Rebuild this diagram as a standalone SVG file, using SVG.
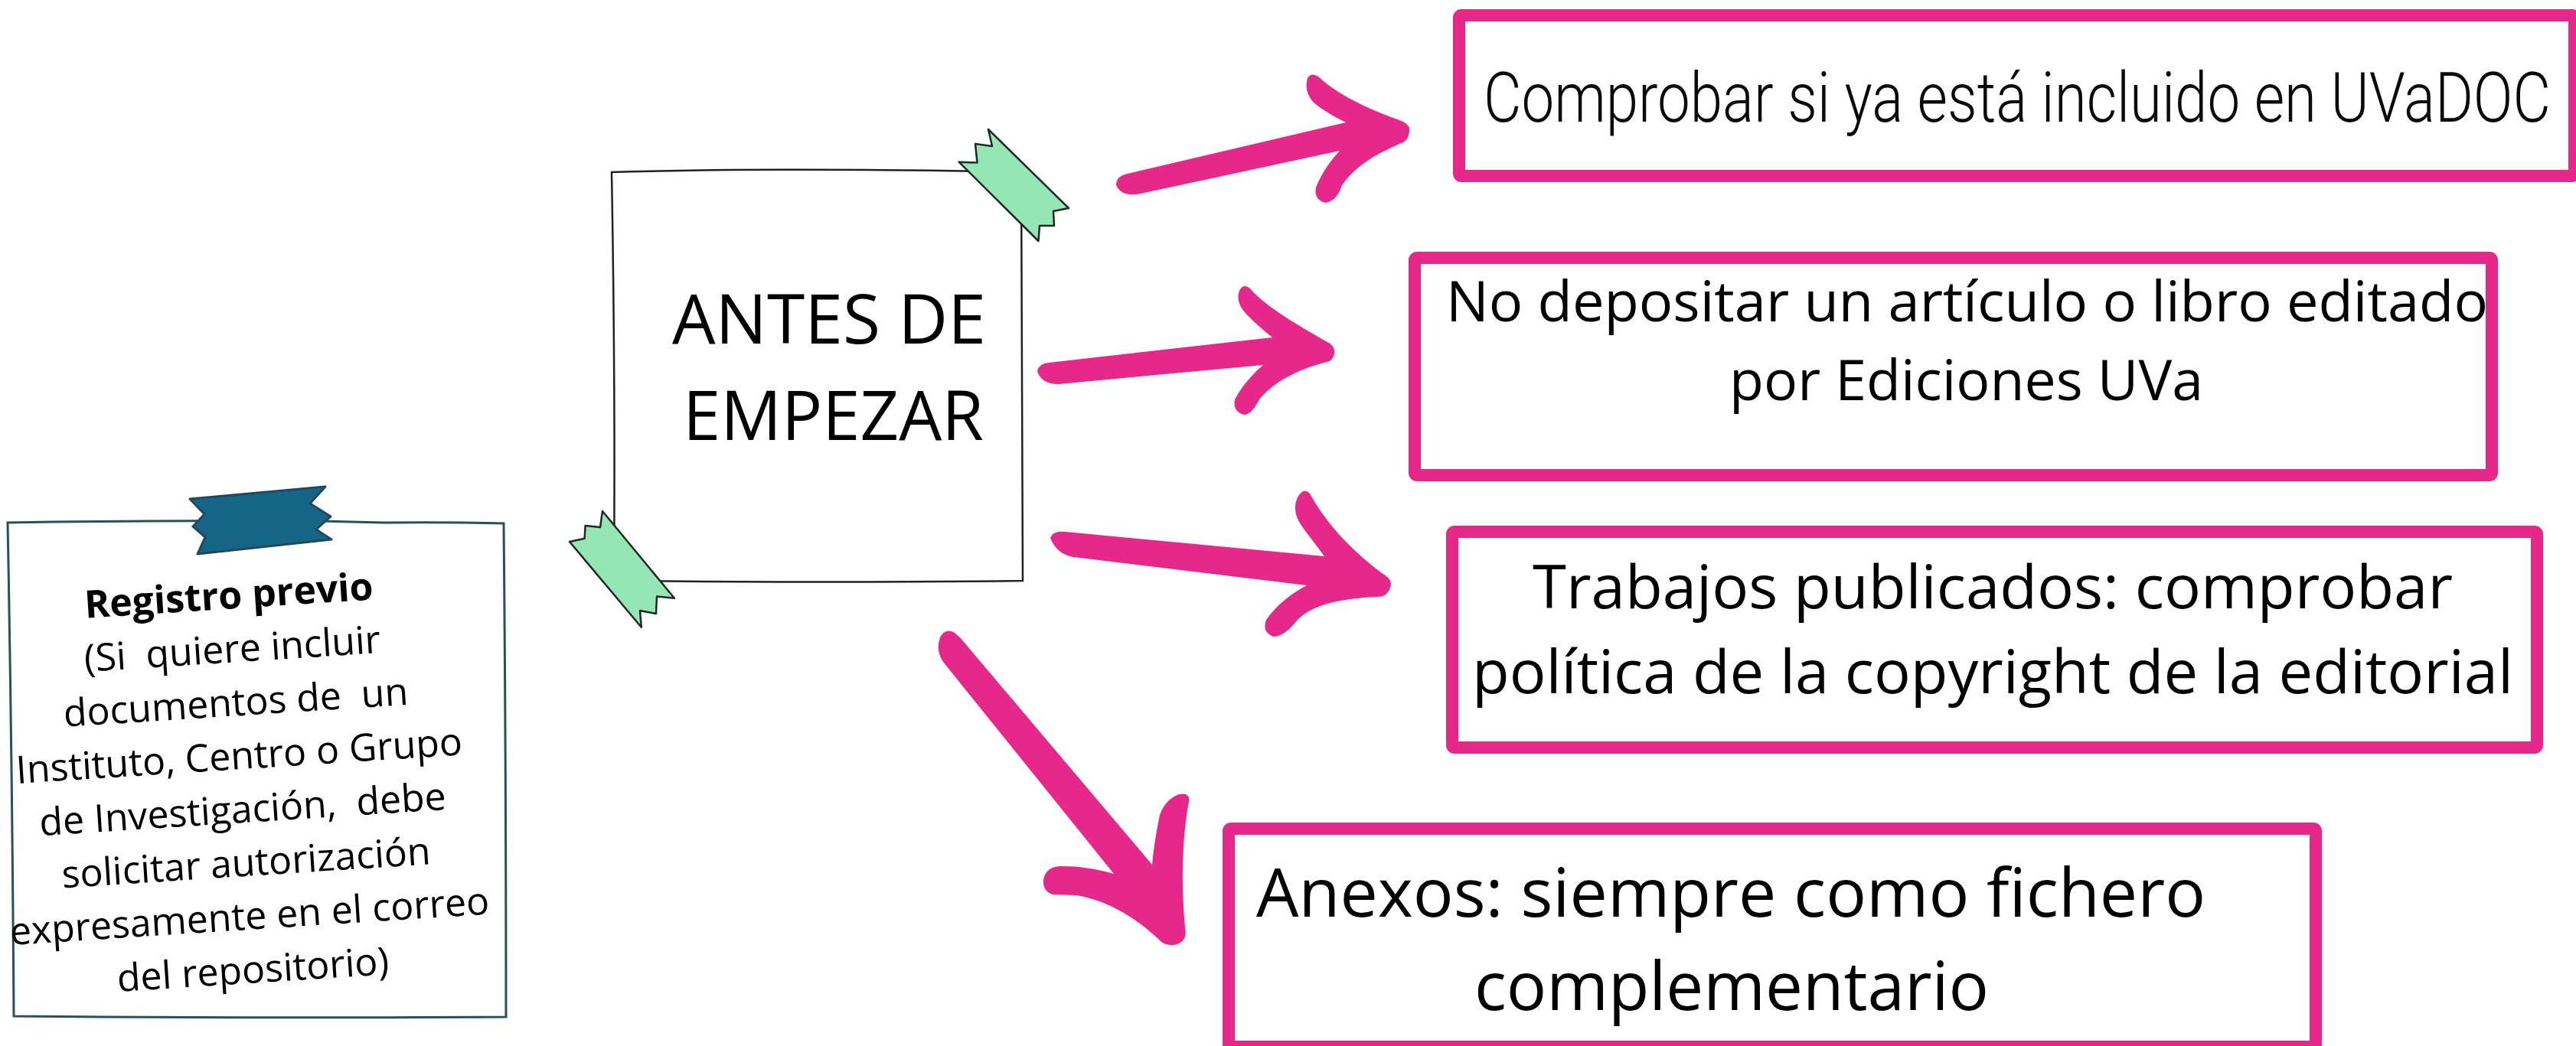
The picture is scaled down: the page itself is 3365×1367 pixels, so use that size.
<svg xmlns="http://www.w3.org/2000/svg" width="3365" height="1367" viewBox="0 0 3365 1367">
<style>
.pinkbox{fill:#ffffff;stroke:#e6288a;stroke-width:16;}
.arrow{fill:#e6288a;stroke:none;}
.t{font-family:"Open Sans","Liberation Sans",sans-serif;fill:#000;white-space:pre;}
.cond{font-family:Roboto,"Open Sans","Liberation Sans",sans-serif;fill:#0a0a0a;font-weight:300;}
.green{fill:#95e6b5;stroke:#1e2a22;stroke-width:2.5;stroke-linejoin:round;}
.blue{fill:#156587;stroke:#22495a;stroke-width:3;stroke-linejoin:round;}
</style>
<rect width="3365" height="1367" fill="#ffffff"/>

<g id="connectors">
  <path class="arrow" d="M1458,242 Q1458,230 1473,227 L1758,160 C1742,152 1728,144 1716,134 Q1703,120 1708,102 Q1713,94 1722,100 C1745,122 1785,142 1828,157 Q1843,162 1841,172 Q1840,182 1833,186 C1800,200 1772,215 1753,242 Q1747,262 1732,265 Q1716,262 1719,245 C1727,225 1738,210 1750,197 L1490,253 Q1465,258 1458,242 Z"/>
  <path class="arrow" d="M1355,485 Q1357,475 1370,474 L1662,441 C1648,430 1635,418 1625,407 Q1614,393 1619,380 Q1624,370 1633,377 C1650,398 1690,422 1732,446 Q1745,452 1743,462 Q1741,472 1733,473 C1695,483 1665,498 1645,522 Q1635,542 1625,542 Q1610,538 1613,522 C1622,505 1635,490 1650,477 L1383,502 Q1360,502 1355,485 Z"/>
  <path class="arrow" d="M1372,703 Q1375,693 1392,695 L1730,727 C1718,710 1705,695 1697,682 Q1688,665 1695,650 Q1703,636 1711,645 C1730,680 1760,715 1805,749 Q1820,757 1816,768 Q1812,780 1800,780 C1750,782 1715,790 1695,810 Q1678,832 1663,832 Q1648,826 1654,810 C1668,790 1688,775 1707,765 L1402,728 Q1380,724 1372,703 Z"/>
  <path class="arrow" d="M1232,865 Q1222,850 1228,833 Q1235,820 1247,827 Q1250,830 1254,833 L1505,1130 C1508,1100 1512,1080 1515,1065 Q1522,1045 1540,1038 Q1555,1035 1553,1048 C1545,1090 1542,1150 1548,1212 Q1552,1232 1533,1235 Q1522,1236 1515,1229 C1480,1195 1440,1175 1405,1170 L1375,1169 Q1362,1165 1363,1150 Q1366,1133 1385,1132 C1410,1132 1430,1135 1455,1142 Z"/>
</g>

<g id="node-registro">
  <path d="M10,683 Q200,680 420,681 L500,683 Q580,682 658,684 Q661,1000 661,1329 Q300,1331 18,1328 Q16,1000 10,683 Z" fill="#ffffff" stroke="#26525c" stroke-width="3"/>
  <polygon class="blue" points="248,652 425,636 405,658 432,675 413,692 433,705 258,724 268,702 252,688 267,672"/>
  <g transform="rotate(-3.7 318 1075)">
    <text class="t" x="318" y="795" font-size="50" font-weight="bold" text-anchor="middle">Registro previo</text>
    <text class="t" x="318" y="865" font-size="50" text-anchor="middle">(Si  quiere incluir</text>
    <text class="t" x="318" y="935" font-size="50" text-anchor="middle">documentos de  un</text>
    <text class="t" x="318" y="1005" font-size="50" text-anchor="middle">Instituto, Centro o Grupo</text>
    <text class="t" x="318" y="1075" font-size="50" text-anchor="middle">de Investigación,  debe</text>
    <text class="t" x="318" y="1145" font-size="50" text-anchor="middle">solicitar autorización</text>
    <text class="t" x="318" y="1215" font-size="50" text-anchor="middle">expresamente en el correo</text>
    <text class="t" x="318" y="1285" font-size="50" text-anchor="middle">del repositorio)</text>
  </g>
</g>

<g id="node-antes">
  <path d="M799,225 Q1000,219 1290,224 L1334,224 Q1335,500 1336,759 Q1100,762 820,759 L802,758 Q804,500 799,225 Z" fill="#ffffff" stroke="#222222" stroke-width="2.5"/>
  <polygon class="green" points="1291,169 1296,191 1274,188 1276.5,212.6 1252.6,211.7 1356.5,315 1358,295 1377,295 1376,276 1396,272"/>
  <polygon class="green" points="787,668 784,689 764.6,687 763.6,703.7 744,708 837.8,819.7 836,798 857,802 858,779.6 881,781.8"/>
  <text class="t" x="878" y="449" font-size="90" textLength="410" lengthAdjust="spacingAndGlyphs">ANTES DE</text>
  <text class="t" x="892" y="575" font-size="90" textLength="393" lengthAdjust="spacingAndGlyphs">EMPEZAR</text>
</g>

<g id="node-comprobar">
  <rect class="pinkbox" x="1906" y="20" width="1457" height="210" rx="3"/>
  <text class="cond" x="1938" y="159" font-size="91" textLength="1394" lengthAdjust="spacingAndGlyphs">Comprobar si ya está incluido en UVaDOC</text>
</g>

<g id="node-nodepositar">
  <rect class="pinkbox" x="1848" y="337" width="1407" height="284" rx="3"/>
  <text class="t" x="1889" y="420" font-size="73" textLength="1361" lengthAdjust="spacingAndGlyphs">No depositar un artículo o libro editado</text>
  <text class="t" x="2259" y="523" font-size="73" textLength="619" lengthAdjust="spacingAndGlyphs">por Ediciones UVa</text>
</g>

<g id="node-trabajos">
  <rect class="pinkbox" x="1897" y="695" width="1417" height="282" rx="3"/>
  <text class="t" x="2002" y="795" font-size="79" textLength="1202" lengthAdjust="spacingAndGlyphs">Trabajos publicados: comprobar</text>
  <text class="t" x="1923" y="906" font-size="79" textLength="1360" lengthAdjust="spacingAndGlyphs">política de la copyright de la editorial</text>
</g>

<g id="node-anexos">
  <rect class="pinkbox" x="1605" y="1083" width="1420" height="285" rx="3"/>
  <text class="t" x="1641" y="1198" font-size="88" textLength="1240" lengthAdjust="spacingAndGlyphs">Anexos: siempre como fichero</text>
  <text class="t" x="1926" y="1320" font-size="88" textLength="672" lengthAdjust="spacingAndGlyphs">complementario</text>
</g>
</svg>
